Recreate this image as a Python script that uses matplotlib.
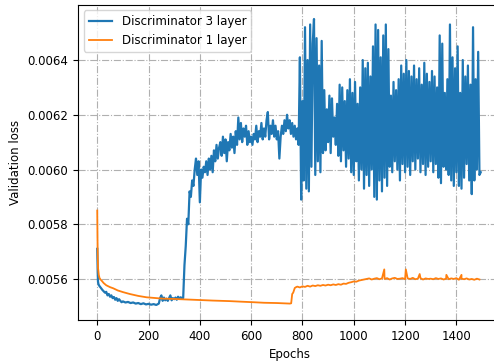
import numpy as np
import matplotlib
matplotlib.use('Agg')
import matplotlib.pyplot as plt

# validation loss, 3 layer discriminator
ep_d3 = [0, 1, 2, 3, 5, 8, 12, 16, 20, 25, 30, 35, 40, 45, 50, 55, 60, 65, 70, 75,
         80, 85, 90, 95, 100, 110, 120, 130, 140, 150, 160, 170, 180, 190, 200, 210,
         220, 230, 240, 245, 250, 255, 260, 265, 270, 275, 280, 285, 290, 295, 300,
         305, 310, 315, 320, 325, 330, 335]
loss_d3 = [0.00571, 0.00566, 0.00562, 0.00559, 0.00558, 0.005575, 0.00557, 0.005565,
           0.00556, 0.005555, 0.00555, 0.005553, 0.00554, 0.005545, 0.005535, 0.00554,
           0.00553, 0.005534, 0.005524, 0.00553, 0.00552, 0.005526, 0.00552, 0.005515,
           0.005518, 0.005514, 0.005516, 0.005512, 0.005514, 0.00551, 0.005512, 0.005508,
           0.005511, 0.005507, 0.005509, 0.005506, 0.005508, 0.005505, 0.00551, 0.00553,
           0.00554, 0.00552, 0.005532, 0.005522, 0.005528, 0.00552, 0.00553, 0.00554,
           0.005522, 0.00553, 0.005526, 0.005532, 0.005524, 0.005535, 0.005528, 0.005533,
           0.00553, 0.00553]

ep_d3 += list(range(340, 790, 5))
loss_d3 += [0.00565, 0.00572, 0.00582, 0.00580, 0.00592, 0.00590, 0.00596, 0.00594,
            0.00600, 0.00604, 0.00598, 0.00603, 0.00588, 0.00600, 0.00597, 0.00601,
            0.00599, 0.00603, 0.00598, 0.00604, 0.00600, 0.00605, 0.00599, 0.00607,
            0.00603, 0.00609, 0.00604, 0.00608, 0.00610, 0.00605, 0.00612, 0.00606,
            0.00611, 0.00603, 0.00610, 0.00607, 0.00613, 0.00608, 0.00612, 0.00606,
            0.00614, 0.00609, 0.00619, 0.00611, 0.00617, 0.00610, 0.00615, 0.00612,
            0.00616, 0.00609, 0.00614, 0.00610, 0.00612, 0.00609, 0.00613, 0.00611,
            0.00616, 0.00610, 0.00614, 0.00612, 0.00617, 0.00611, 0.00615, 0.00612,
            0.00618, 0.00621, 0.00611, 0.00616, 0.00613, 0.00618, 0.00612, 0.00616,
            0.00611, 0.00614, 0.00604, 0.00612, 0.00616, 0.00613, 0.00618, 0.00614,
            0.00620, 0.00615, 0.00618, 0.00613, 0.00617, 0.00612, 0.00616, 0.00611,
            0.00615, 0.00609]

ep_d3 += list(range(790, 1500, 5))
loss_d3 += [0.00641, 0.00589, 0.00625, 0.00596, 0.00652, 0.00593, 0.00640, 0.00592,
            0.00653, 0.00601, 0.00646, 0.00655, 0.00598, 0.00648, 0.00603, 0.00638,
            0.00599, 0.00647, 0.00606, 0.00629, 0.00607, 0.00622, 0.00610, 0.00627,
            0.00606, 0.00626, 0.00612, 0.00619, 0.00609, 0.00624, 0.00605, 0.00631,
            0.00603, 0.00630, 0.00607, 0.00625, 0.00601, 0.00629, 0.00604, 0.00633,
            0.00599, 0.00628, 0.00598, 0.00632, 0.00603, 0.00624, 0.00596, 0.00630,
            0.00600, 0.00640, 0.00593, 0.00637, 0.00598, 0.00639, 0.00594, 0.00634,
            0.00600, 0.00645, 0.00590, 0.00653, 0.00589, 0.00651, 0.00596, 0.00641,
            0.00592, 0.00649, 0.00597, 0.00653, 0.00594, 0.00644, 0.00601, 0.00627,
            0.00599, 0.00632, 0.00603, 0.00629, 0.00600, 0.00633, 0.00596, 0.00638,
            0.00602, 0.00635, 0.00599, 0.00640, 0.00601, 0.00636, 0.00598, 0.00634,
            0.00603, 0.00638, 0.00600, 0.00633, 0.00604, 0.00637, 0.00599, 0.00631,
            0.00602, 0.00639, 0.00598, 0.00635, 0.00601, 0.00632, 0.00603, 0.00636,
            0.00599, 0.00634, 0.00602, 0.00630, 0.00597, 0.00649, 0.00595, 0.00646,
            0.00601, 0.00628, 0.00600, 0.00633, 0.00598, 0.00653, 0.00596, 0.00641,
            0.00594, 0.00637, 0.00599, 0.00645, 0.00594, 0.00628, 0.00593, 0.00640,
            0.00597, 0.00634, 0.00602, 0.00638, 0.00596, 0.00631, 0.00591, 0.00652,
            0.00596, 0.00633, 0.00600, 0.00643, 0.00598, 0.00599]

# validation loss, 1 layer discriminator
ep_d1 = [0, 1, 2, 3, 4, 6, 9, 13, 17, 25, 35, 50, 62, 80, 100, 127, 160, 192, 230,
         257, 300, 322, 400, 450, 517, 560, 608, 650, 700, 751, 756, 760, 764, 770, 775]
loss_d1 = [0.00585, 0.00575, 0.00568, 0.00564, 0.005633, 0.005615, 0.005603, 0.005598,
           0.005594, 0.005585, 0.005577, 0.005570, 0.005566, 0.005558, 0.005552, 0.005545,
           0.005538, 0.005533, 0.005530, 0.005528, 0.005527, 0.005526, 0.005523, 0.005521,
           0.005519, 0.005517, 0.005515, 0.005513, 0.005512, 0.005510, 0.005511, 0.005545,
           0.00555, 0.005567, 0.005570]

ep_d1 += list(range(780, 1500, 10))
loss_d1 += [0.005572, 0.005569, 0.005573, 0.005571, 0.005575, 0.005572, 0.005576, 0.005574,
            0.005577, 0.005575, 0.005578, 0.005576, 0.005579, 0.005577, 0.005580, 0.005578,
            0.005581, 0.005579, 0.005583, 0.005582, 0.005586, 0.005588, 0.005591, 0.005590,
            0.005594, 0.005596, 0.005598, 0.005600, 0.005602, 0.005598, 0.005601, 0.005603,
            0.005599, 0.005602, 0.005600, 0.005603, 0.005598, 0.005602, 0.005604, 0.005600,
            0.005601, 0.005603, 0.005599, 0.005602, 0.005600, 0.005604, 0.005599, 0.005601,
            0.005603, 0.005598, 0.005602, 0.005600, 0.005601, 0.005599, 0.005603, 0.005600,
            0.005602, 0.005598, 0.005601, 0.005599, 0.005602, 0.005600, 0.005603, 0.005597,
            0.005601, 0.005599, 0.005602, 0.005598, 0.005600, 0.005597, 0.005601, 0.005598]

# short spikes on the 1 layer curve
spike_ep = [1119, 1203, 1257, 1361, 1420]
spike_val = [0.005635, 0.005635, 0.005618, 0.005615, 0.005615]
for e, v in zip(spike_ep, spike_val):
    i = np.searchsorted(ep_d1, e)
    ep_d1.insert(i, e)
    loss_d1.insert(i, v)

plt.rcParams['font.size'] = 8.5

fig = plt.figure(figsize=(4.94, 3.61), dpi=100)
ax = fig.add_axes([78 / 494, 41 / 361, 423 / 494, 315.5 / 361])

ax.plot(ep_d3, loss_d3, color='tab:blue', lw=1.6, label='Discriminator 3 layer')
ax.plot(ep_d1, loss_d1, color='tab:orange', lw=1.3, label='Discriminator 1 layer')

ax.set_xlim(-75, 1574)
ax.set_ylim(0.00545, 0.006603)
ax.set_xticks([0, 200, 400, 600, 800, 1000, 1200, 1400])
ax.set_yticks([0.0056, 0.0058, 0.0060, 0.0062, 0.0064])
ax.grid(linestyle='-.')
ax.set_xlabel('Epochs')
ax.set_ylabel('Validation loss')
ax.legend(loc='upper left')

fig.savefig('out.png', dpi=100)
